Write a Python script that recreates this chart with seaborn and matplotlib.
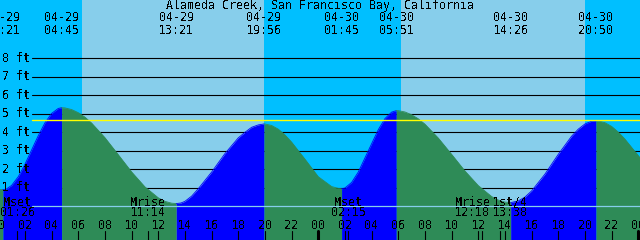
import numpy as np
import pandas as pd
import matplotlib
matplotlib.use("Agg")
import matplotlib.pyplot as plt
import matplotlib.transforms as mtransforms
import seaborn as sns

sns.set_style("white")
plt.rcParams["font.family"] = ["DejaVu Sans Mono"]
plt.rcParams["text.antialiased"] = False

TITLE = "Alameda Creek, San Francisco Bay, California"

# hours after 04-29 00:00, tide height in feet
HOURS = [-0.2, 0.35, 0.6, 1, 1.5, 2, 3, 3.5, 4, 4.5, 4.75, 5, 5.5, 6, 6.5, 7, 8, 9, 10,
         11, 12, 12.5, 13, 13.35, 13.7, 14, 14.5, 15, 16, 17, 18, 18.5, 19, 19.5, 19.93,
         20, 20.5, 21, 21.5, 22, 23, 24, 25, 25.5, 25.75, 26, 26.5, 27, 28, 28.5, 29,
         29.5, 29.85, 30, 30.5, 31, 31.5, 32, 33, 34, 35, 36, 37, 37.5, 38, 38.43, 39,
         39.5, 40, 41, 42, 43, 43.5, 44, 44.5, 44.83, 45, 45.5, 46, 46.5, 47, 48, 48.5]
FEET = [0.93, 0.90, 0.93, 1.13, 1.60, 2.27, 3.82, 4.51, 5.02, 5.29, 5.33, 5.32, 5.23,
        5.06, 4.82, 4.50, 3.71, 2.79, 1.86, 1.05, 0.46, 0.27, 0.17, 0.15, 0.18, 0.27,
        0.55, 0.95, 1.85, 2.85, 3.70, 4.00, 4.27, 4.40, 4.45, 4.45, 4.37, 4.17, 3.86,
        3.47, 2.55, 1.60, 1.07, 0.97, 0.95, 0.99, 1.29, 1.85, 3.38, 4.14, 4.74, 5.09,
        5.17, 5.17, 5.10, 4.95, 4.73, 4.44, 3.69, 2.81, 1.91, 1.12, 0.53, 0.34, 0.23,
        0.20, 0.29, 0.50, 0.83, 1.74, 2.81, 3.79, 4.17, 4.45, 4.60, 4.63, 4.62, 4.52,
        4.32, 4.01, 3.63, 2.74, 2.30]

# high / low tide events
TIDE_HOURS = [0.35, 4.75, 13.35, 19.93, 25.75, 29.85, 38.43, 44.83]
TIDE_KIND = ["low", "high", "low", "high", "low", "high", "low", "high"]
TIDE_DATES = ["04-29", "04-29", "04-29", "04-29", "04-30", "04-30", "04-30", "04-30"]
TIDE_CLOCK = ["00:21", "04:45", "13:21", "19:56", "01:45", "05:51", "14:26", "20:50"]

# moon events
MOON_HOURS = [1.43, 11.23, 26.25, 36.3, 37.63]
MOON_NAMES = ["Mset", "Mrise", "Mset", "Mrise", "1st/4"]
MOON_CLOCK = ["01:26", "11:14", "02:15", "12:18", "13:38"]

SUNRISE = [6.25, 30.2]
SUNSET = [19.93, 44.0]

FT_LEVELS = [1, 2, 3, 4, 5, 6, 7, 8]
MARK_LEVEL = 4.65

DAY = "#87CEEB"
NIGHT = "#00BFFF"
RISING = "#0000FF"
FALLING = "#2E8B57"

T0, T1 = 0.13, 48.13
YMIN, YMAX = -1.82, 11.15
FS = 8.4


def main():
    df = pd.DataFrame({"t": HOURS, "ft": FEET})

    fig = plt.figure(figsize=(6.4, 2.4), dpi=100)
    ax = fig.add_axes([0, 0, 1, 1])
    ax.set_facecolor(DAY)

    # night shading
    starts = [T0 - 1] + SUNSET
    ends = SUNRISE + [T1 + 1]
    for a, b in zip(starts, ends):
        ax.axvspan(a, b, color=NIGHT, lw=0, zorder=0)

    for lv in FT_LEVELS:
        ax.axhline(lv, xmin=0.05, xmax=1, color="black", lw=0.8, zorder=1)

    # tide fill, split at each high / low
    bounds = [T0 - 1] + TIDE_HOURS + [T1 + 1]
    for i in range(len(bounds) - 1):
        part = df[(df["t"] >= bounds[i]) & (df["t"] <= bounds[i + 1])]
        if len(part) < 2:
            continue
        rising = (i < len(TIDE_KIND)) and TIDE_KIND[i] == "high"
        col = RISING if rising else FALLING
        ax.fill_between(part["t"], part["ft"], YMIN, color=col, lw=0, zorder=2)
        sns.lineplot(x=part["t"], y=part["ft"], ax=ax, color=col, lw=0.6,
                     estimator=None, sort=False, zorder=2)

    ax.axhline(MARK_LEVEL, xmin=0.05, xmax=1, color="#FFFF00", lw=1.0, zorder=3)
    ax.axhline(0, xmin=0.05, xmax=1, color=DAY, lw=0.9, zorder=3)

    trans = mtransforms.blended_transform_factory(ax.transData, ax.transAxes)
    kw = dict(ha="center", va="center", fontsize=FS, color="black", zorder=5)

    ax.text(0.5, 0.975, TITLE, transform=ax.transAxes, **kw)
    for t, d, c in zip(TIDE_HOURS, TIDE_DATES, TIDE_CLOCK):
        ax.text(t, 0.929, d, transform=trans, **kw)
        ax.text(t, 0.875, c, transform=trans, **kw)

    # moon labels: push apart the two that sit close together
    nudge = [0, 0, 0, -7, 7]
    for t, n, c, dx in zip(MOON_HOURS, MOON_NAMES, MOON_CLOCK, nudge):
        for txt, yy in ((n, 0.158), (c, 0.1125)):
            ax.annotate(txt, (t, yy), xycoords=trans, xytext=(dx, 0),
                        textcoords="offset points", **kw)

    ytrans = mtransforms.blended_transform_factory(ax.transAxes, ax.transData)
    for lv in FT_LEVELS:
        ax.text(0.003, lv, f"{lv} ft", transform=ytrans,
                **{**kw, "ha": "left"})

    # hour ticks
    for h in range(0, 50, 2):
        ax.text(h, 0.06, f"{h % 24:02d}", transform=trans, **kw)
        ax.axvline(h, ymin=0, ymax=9 / 240, color="black",
                   lw=2.2 if h % 24 == 0 else 0.8, zorder=5)
    for t in MOON_HOURS:
        ax.axvline(t, ymin=0, ymax=9 / 240, color="black", lw=0.8, zorder=5)

    ax.set_xlim(T0, T1)
    ax.set_ylim(YMIN, YMAX)
    ax.set_xticks([])
    ax.set_yticks([])
    ax.set_xlabel("")
    ax.set_ylabel("")
    for s in ax.spines.values():
        s.set_visible(False)

    fig.savefig("out.png", dpi=100, facecolor="white")
    plt.close(fig)


if __name__ == "__main__":
    main()
